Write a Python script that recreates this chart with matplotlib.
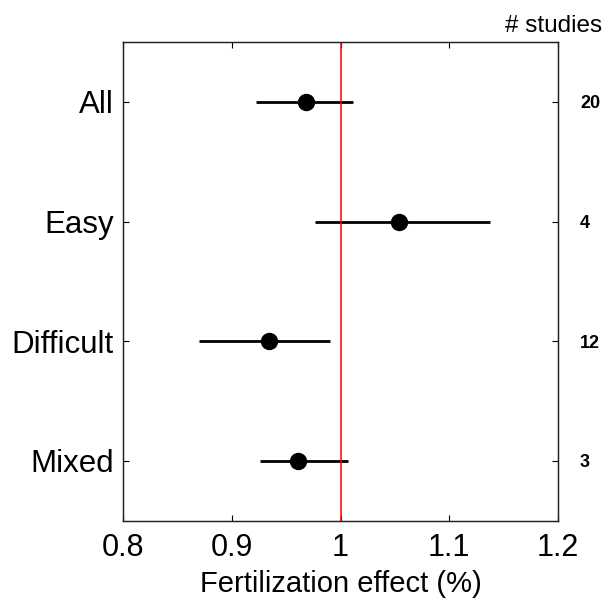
import matplotlib.pyplot as plt

plt.rcParams['font.family'] = ['Liberation Sans', 'DejaVu Sans']

# forest plot data
groups = ['All', 'Easy', 'Difficult', 'Mixed']
effect = [0.968, 1.054, 0.934, 0.961]
ci_low = [0.922, 0.976, 0.870, 0.926]
ci_high = [1.011, 1.138, 0.990, 1.007]
n_studies = [20, 4, 12, 3]
ypos = [1, 2, 3, 4]

fig = plt.figure(figsize=(6.05, 6.02), dpi=100)
ax = fig.add_axes([0.204, 0.135, 0.718, 0.795])

# confidence intervals + point estimates
ax.hlines(ypos, ci_low, ci_high, color='black', lw=2, zorder=2)
ax.plot(effect, ypos, 'o', color='black', markersize=11.5, zorder=2)

# no-effect line, drawn over the bars
ax.axvline(1.0, color='#ff0000', lw=1.1, zorder=3)

ax.set_xlim(0.8, 1.2)
ax.set_ylim(4.5, 0.5)
ax.set_xticks([0.8, 0.9, 1.0, 1.1, 1.2])
ax.set_xticklabels(['0.8', '0.9', '1', '1.1', '1.2'])
ax.set_yticks(ypos)
ax.set_yticklabels(groups)
ax.tick_params(axis='x', direction='in', top=True, length=4, width=0.8,
               labelsize=22, pad=9)
ax.tick_params(axis='y', direction='in', length=4, width=0.8,
               labelsize=22.5, pad=7)
ax.set_xlabel('Fertilization effect (%)', fontsize=21, labelpad=5)

# number of studies on the right
ax2 = ax.twinx()
ax2.set_ylim(ax.get_ylim())
ax2.set_yticks(ypos)
ax2.set_yticklabels([str(n) for n in n_studies], fontweight='bold')
ax2.tick_params(axis='y', direction='in', length=4, width=0.8,
                labelsize=13, pad=16)
ax.text(1.102, 1.021, '# studies', transform=ax.transAxes, ha='right',
        va='baseline', fontsize=17.5)

for a in (ax, ax2):
    for s in a.spines.values():
        s.set_linewidth(0.9)
        s.set_color('#222222')

fig.savefig('out.png', dpi=100)
